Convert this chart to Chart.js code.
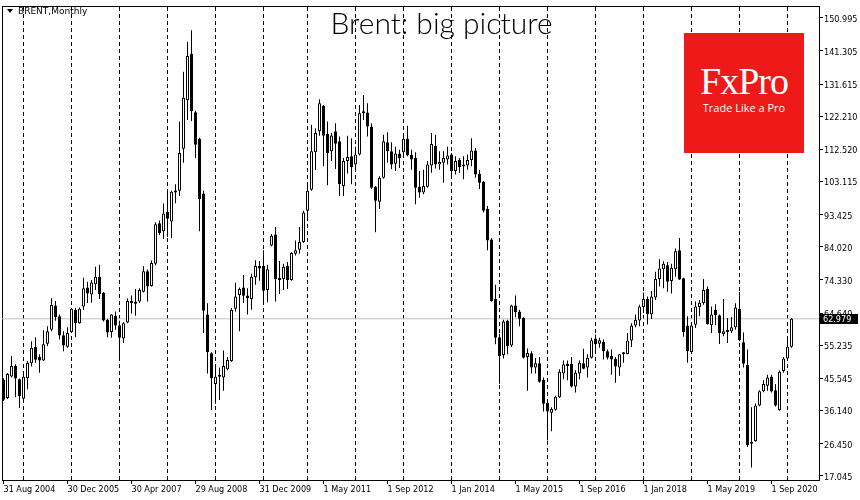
<!DOCTYPE html>
<html><head><meta charset="utf-8">
<script src="https://cdn.jsdelivr.net/npm/chart.js@4.4.1/dist/chart.umd.min.js"></script>
<style>
html,body{margin:0;padding:0;background:#fff;}
#wrap{position:relative;width:860px;height:500px;overflow:hidden;background:#fff;}
#c{position:absolute;left:0;top:0;}
.title{position:absolute;left:0;width:883px;top:2px;text-align:center;font-family:'Lato','Open Sans',sans-serif;font-weight:300;font-size:30px;color:#000;line-height:40px;}
.sym{position:absolute;left:18px;top:5px;font-family:'DejaVu Sans',sans-serif;font-size:9px;color:#000;line-height:12px;}
.tri{position:absolute;left:7px;top:9px;width:0;height:0;border-left:3px solid transparent;border-right:3px solid transparent;border-top:4px solid #000;}
.logo{position:absolute;left:684px;top:33px;width:120px;height:120px;background:#ee1a1a;}
.logo .fx{position:absolute;left:0;width:120px;top:28px;text-align:center;font-family:'Liberation Serif',serif;font-size:38px;color:#fff;line-height:40px;letter-spacing:-1px;}
.logo .tag{position:absolute;left:0;width:120px;top:68px;text-align:center;font-family:'Open Sans','Liberation Sans',sans-serif;font-size:11px;color:#fff;line-height:14px;}
</style>
</head><body>
<div id="wrap">
<canvas id="c" width="860" height="500"></canvas>
<div class="title">Brent: big picture</div>
<div class="tri"></div><div class="sym">BRENT,Monthly</div>
<div class="logo"><div class="fx">FxPro</div><div class="tag">Trade Like a Pro</div></div>
</div>
<script>
// Monthly candles, Aug 2004 .. Feb 2021 (broker history lacks Mar 2010)
const opens = [45.1,39.8,46.1,49.2,45.3,39.6,45.6,50.0,54.7,51.9,50.8,55.7,59.8,66.9,63.7,58.2,54.8,59.1,65.6,61.7,
66.6,72.1,70.1,73.1,75.3,70.6,62.7,59.1,63.9,61.1,57.2,61.9,68.2,68.0,68.0,70.9,76.9,72.6,79.1,90.9,
88.6,94.3,91.4,99.9,100.4,112.7,126.9,140.5,123.4,115.6,99.6,64.2,52.9,43.9,46.6,45.8,48.2,50.6,65.9,69.9,
72.1,69.8,68.8,75.1,78.4,78.5,71.4,84.4,87.6,74.9,74.6,78.4,74.3,82.0,83.2,85.4,94.6,100.7,111.7,117.8,
125.3,117.0,112.0,117.8,114.9,101.8,109.1,110.5,108.1,111.0,123.1,123.3,119.2,101.6,97.2,104.2,114.6,112.0,108.3,111.3,
111.7,115.6,110.9,110.0,101.6,99.9,101.6,107.8,113.6,108.1,108.6,109.6,111.0,106.2,109.4,108.1,107.8,109.4,112.2,105.4,
103.0,95.1,86.2,68.8,57.6,52.4,62.4,55.2,66.9,65.1,63.2,51.8,52.9,48.7,50.0,45.1,38.4,35.5,36.4,40.0,
47.0,49.8,49.8,43.2,47.0,50.0,48.7,51.6,57.2,55.7,56.2,53.5,52.1,51.3,48.7,52.6,52.7,56.6,61.0,62.5,
66.4,68.8,64.3,69.2,74.6,77.5,78.6,74.0,77.5,83.0,74.8,61.0,53.3,61.2,66.4,67.6,71.7,61.1,65.6,64.0,
58.5,59.1,59.3,60.5,65.9,56.1,49.5,27.0,27.2,37.6,41.8,43.4,46.0,42.1,36.3,47.7,51.4,54.8];
const highs = [45.6,47.1,52.1,49.7,45.5,46.9,50.6,56.4,57.6,52.6,59.6,60.8,69.0,68.2,64.2,59.3,60.5,66.1,66.1,66.3,
75.0,73.8,74.3,78.2,78.8,70.8,63.0,64.3,65.1,62.4,62.0,69.0,69.8,71.7,71.9,78.4,77.4,80.0,91.2,91.7,
96.7,100.9,100.4,102.3,120.7,135.2,144.0,147.4,123.8,115.9,100.4,67.5,53.2,49.7,48.7,53.7,51.8,66.1,73.5,72.1,
75.8,71.9,76.2,80.1,79.9,83.0,78.8,87.8,89.8,79.9,79.1,79.6,82.5,85.9,89.8,94.6,101.8,119.7,118.7,127.2,
125.5,120.7,117.3,120.2,116.3,110.0,116.5,115.8,113.3,125.5,128.4,126.0,120.2,101.8,104.7,116.8,117.5,114.6,113.3,112.4,
116.3,119.4,112.4,111.7,106.2,106.6,109.1,117.3,116.8,112.0,112.0,113.3,111.5,110.5,110.0,110.5,111.0,115.8,112.9,106.6,
103.3,96.0,86.6,72.9,58.6,62.7,62.7,67.1,69.8,65.6,63.4,54.3,53.5,51.5,51.8,45.8,38.5,37.1,40.5,48.2,
50.8,50.8,51.8,47.9,50.8,54.2,52.6,57.4,58.4,57.4,56.9,54.0,54.0,51.8,52.7,53.3,58.8,61.7,64.2,67.1,
70.7,69.5,71.1,76.7,80.4,79.8,79.6,79.1,83.5,86.6,75.0,63.7,61.4,68.0,68.5,74.6,72.4,66.6,67.2,64.2,
68.8,63.2,63.5,67.5,70.9,59.0,54.0,37.1,38.2,42.1,45.0,46.6,46.6,43.9,47.9,51.8,57.4,63.2];
const lows = [38.9,39.5,45.8,40.0,36.9,39.3,42.4,49.0,50.1,47.2,50.6,55.0,59.3,62.4,56.9,53.5,54.5,58.8,57.6,61.5,
65.6,67.6,67.7,71.4,68.8,62.2,57.6,57.4,59.8,50.8,55.9,61.7,64.5,63.9,67.6,70.7,68.0,72.4,78.6,87.4,
86.3,86.9,86.6,96.8,98.9,108.6,121.1,120.8,110.0,88.6,58.8,47.0,36.3,38.1,39.2,41.9,47.9,50.4,65.1,59.3,
67.6,64.2,65.6,72.9,74.1,68.0,67.8,84.2,68.0,70.2,71.4,71.7,74.1,81.5,82.0,85.2,92.1,100.4,106.5,116.5,
107.6,102.0,109.1,106.8,98.9,98.9,105.5,102.3,106.8,110.7,121.1,116.3,101.0,88.3,95.1,103.9,108.6,106.8,106.2,107.1,
110.0,110.5,106.6,96.5,98.4,99.4,101.3,105.7,106.9,106.6,102.8,108.1,104.7,105.2,105.7,103.8,106.6,107.6,104.2,100.9,
94.1,83.0,68.0,55.5,44.0,51.4,52.6,54.7,63.4,60.8,51.4,41.9,47.0,47.0,44.3,35.9,27.4,30.1,36.1,39.8,
45.3,45.0,42.9,41.4,45.3,48.2,45.8,51.4,52.7,54.5,51.1,51.1,46.6,44.3,46.3,50.1,52.6,54.7,60.5,60.8,
64.6,61.3,62.9,68.5,72.4,71.9,70.9,70.4,75.3,74.3,57.7,50.1,52.6,60.3,63.7,67.1,61.3,58.8,61.1,55.6,
57.9,55.9,58.8,59.8,56.4,48.7,25.5,19.5,27.0,37.4,41.5,41.9,41.4,37.3,36.1,47.2,51.1,54.5];
const closes = [39.3,46.8,49.2,45.5,40.3,46.0,50.1,54.5,51.0,50.8,55.5,59.3,67.0,63.5,58.1,55.2,58.8,65.9,61.7,65.9,
71.9,70.4,73.6,75.3,70.2,62.5,59.0,64.2,61.0,57.4,61.7,68.2,67.8,67.7,71.4,76.9,72.4,79.3,90.6,88.1,
93.8,92.2,100.1,100.4,111.5,127.6,139.8,123.7,113.9,98.0,65.3,53.3,45.5,46.0,46.1,49.2,50.9,65.6,69.5,71.7,
69.7,69.0,75.3,78.4,77.7,71.2,77.5,87.3,74.6,74.5,78.2,74.3,82.2,83.0,85.4,94.1,100.4,112.0,117.3,126.0,
116.5,111.5,116.6,114.2,102.3,109.1,110.3,107.3,111.0,123.1,123.4,119.2,101.3,97.5,104.2,114.9,112.0,108.1,111.3,110.0,
115.6,110.7,109.6,101.3,99.9,101.8,108.1,114.1,108.1,108.8,110.0,110.7,106.2,109.1,107.4,107.6,109.4,112.2,105.2,102.8,
94.6,85.9,68.2,57.4,52.1,62.2,55.0,66.9,64.9,63.0,51.6,53.0,48.7,50.0,44.6,38.1,35.9,36.6,40.2,47.5,
49.7,49.5,43.2,47.2,50.1,48.4,51.6,56.7,55.5,56.7,53.5,51.6,51.1,49.0,52.6,53.0,56.6,61.0,62.7,66.6,
68.8,64.3,69.5,74.6,77.7,79.1,73.8,77.9,82.7,74.5,59.1,53.5,61.0,66.6,67.7,71.4,61.4,64.2,64.0,58.8,
59.3,59.5,60.5,66.3,56.7,49.8,26.0,26.5,37.6,41.8,43.9,45.8,41.7,37.6,47.5,51.4,54.8,62.979];

const xLabelIdx = [0,16,32,48,64,80,96,112,128,144,160,176,192];
const xLabels = ['31 Aug 2004','30 Dec 2005','30 Apr 2007','29 Aug 2008','31 Dec 2009','1 May 2011','1 Sep 2012','1 Jan 2014','1 May 2015','1 Sep 2016','1 Jan 2018','1 May 2019','1 Sep 2020'];
const yearStartIdx = [5,17,29,41,53,65,76,88,100,112,124,136,148,160,172,184,196];
const yTicks = [17.045,26.450,36.140,45.545,55.235,64.640,74.330,84.020,93.425,103.115,112.520,122.210,131.615,141.305,150.995];
const lastPrice = 62.979;

const X_MIN = -0.375, X_MAX = 203.875;
const Y_MIN = 15.83, Y_MAX = 154.34;
const UIFONT = "'DejaVu Sans Condensed','DejaVu Sans','Liberation Sans',sans-serif";

const wickData = opens.map((o, i) => ({x: i, y: [lows[i], highs[i]]}));
const bodyData = opens.map((o, i) => {
  let c = closes[i];
  if (Math.abs(c - o) < 0.6) c = c >= o ? o + 0.6 : o - 0.6;
  return {x: i, y: [o, c]};
});
const bodyColors = opens.map((o, i) => closes[i] >= o ? '#ffffff' : '#000000');

const priceTag = {
  id: 'priceTag',
  afterDraw(chart) {
    const ctx = chart.ctx;
    const y = chart.scales.y.getPixelForValue(lastPrice);
    const x0 = chart.chartArea.right + 1;
    ctx.save();
    ctx.fillStyle = '#000';
    ctx.fillRect(x0, Math.round(y) - 5, 38, 10);
    ctx.fillStyle = '#fff';
    ctx.font = "9px " + UIFONT;
    ctx.textBaseline = 'middle';
    ctx.textAlign = 'left';
    ctx.fillText(lastPrice.toFixed(3), x0 + 3, Math.round(y) + 0.5);
    ctx.restore();
  }
};

new Chart(document.getElementById('c'), {
  type: 'bar',
  data: {
    datasets: [
      {type: 'bar', data: bodyData, backgroundColor: bodyColors, borderColor: '#000', borderWidth: 1,
       borderSkipped: false, barThickness: 3, grouped: false, inflateAmount: 0, order: 0},
      {type: 'bar', data: wickData, backgroundColor: '#000', borderWidth: 0,
       barThickness: 1, grouped: false, inflateAmount: 0, order: 1},
      {type: 'line', data: [{x: X_MIN, y: lastPrice}, {x: X_MAX, y: lastPrice}], borderColor: '#c0c0c0',
       borderWidth: 1, pointRadius: 0, order: 5}
    ]
  },
  options: {
    responsive: false, devicePixelRatio: 1, animation: false,
    layout: {padding: 0},
    plugins: {legend: {display: false}, tooltip: {enabled: false}, title: {display: false}},
    font: {family: UIFONT, size: 9},
    scales: {
      x: {
        type: 'linear', position: 'bottom', min: X_MIN, max: X_MAX, offset: false,
        afterBuildTicks: s => { s.ticks = xLabelIdx.map(v => ({value: v})); },
        afterFit: s => { s.height = 20; },
        ticks: {autoSkip: false, maxRotation: 0, align: 'start', padding: 0, color: '#000',
                font: {family: UIFONT, size: 9},
                callback: (v) => xLabels[xLabelIdx.indexOf(v)] || ''},
        grid: {display: true, offset: false, drawOnChartArea: false, drawTicks: true, tickLength: 4, color: '#000'},
        border: {display: true, color: '#000', width: 1}
      },
      x2: {
        type: 'linear', position: 'top', min: X_MIN, max: X_MAX, offset: false,
        afterBuildTicks: s => { s.ticks = yearStartIdx.map(v => ({value: v})); },
        afterFit: s => { s.height = 2; },
        ticks: {display: false},
        grid: {display: true, offset: false, drawOnChartArea: true, drawTicks: false, color: '#000', lineWidth: 1},
        border: {display: true, color: '#000', width: 1, dash: [4, 3]}
      },
      y: {
        type: 'linear', position: 'right', min: Y_MIN, max: Y_MAX,
        afterBuildTicks: s => { s.ticks = yTicks.map(v => ({value: v})); },
        afterFit: s => { s.width = 41; },
        ticks: {padding: 1, color: '#000', labelOffset: 1.5, font: {family: UIFONT, size: 9},
                callback: v => v.toFixed(3)},
        grid: {display: true, drawOnChartArea: false, drawTicks: true, tickLength: 4, color: '#000'},
        border: {display: true, color: '#000', width: 1}
      },
      yL: {
        type: 'linear', position: 'left', min: Y_MIN, max: Y_MAX,
        afterFit: s => { s.width = 2; },
        ticks: {display: false},
        grid: {display: false, drawTicks: false},
        border: {display: true, color: '#000', width: 1}
      }
    }
  },
  plugins: [priceTag]
});
</script>
</body></html>
